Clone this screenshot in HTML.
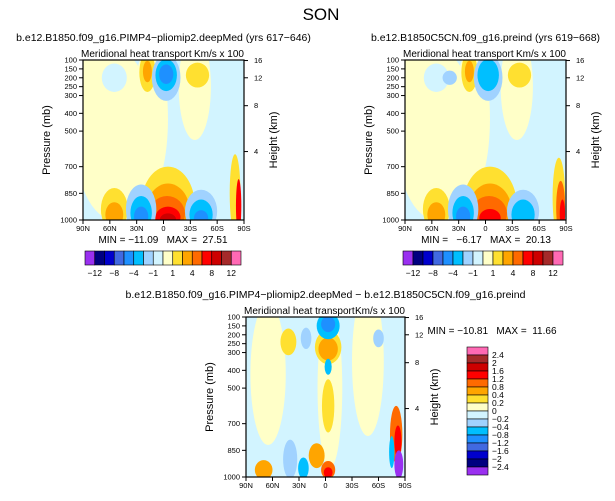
<!DOCTYPE html>
<html><head><meta charset="utf-8">
<style>
body{margin:0;background:#fff;width:615px;height:496px;overflow:hidden}
svg text{font-family:"Liberation Sans",sans-serif;fill:#000}
.pre{white-space:pre}
</style></head>
<body>
<svg id="s" width="615" height="496" xmlns="http://www.w3.org/2000/svg">
<text x="321" y="20" font-size="17" text-anchor="middle">SON</text>
</svg>
<script>
// Color levels (16 fill colors)
const colors=["#9a30f0","#000080","#0000cd","#4169e1","#1e90ff","#00bfff","#a0d2ff","#d2f4ff","#ffffc8","#ffe030","#ffa500","#ff6a00","#ff0000","#cd0000","#a52a2a","#ff69b4"];
const latTicks=["90N","60N","30N","0","30S","60S","90S"];
const latVals=[90,60,30,0,-30,-60,-90];
const presTicks=[100,150,200,250,300,400,500,700,850,1000];
const hgtTicks=[16,12,8,4];
const hgtPres=[103,200,357,615];
const cbLabels1=["-12","-8","-4","-1","1","4","8","12"];
const cbLabels1Pos=[1,3,5,7,9,11,13,15];
const cbLabels3=["2.4","2","1.6","1.2","0.8","0.4","0.2","0","-0.2","-0.4","-0.8","-1.2","-1.6","-2","-2.4"];
// blobs: [lat, pressure, lat-radius, pressure-radius, color index]
const blobs1=[[55,520,45,480,8],[15,430,20,400,8],[85,300,20,500,8],[-35,250,18,300,8],[55,200,14,80,7],
[18,170,9,110,9],[18,165,5,60,10],
[-3,200,16,130,6],[-3,185,12,90,5],[-3,180,8,55,4],[-38,185,13,70,9],
[-5,920,30,220,9],[-5,945,24,150,10],[-4,965,20,100,11],[-5,985,14,60,12],[-5,998,9,35,13],
[55,940,15,120,9],[55,970,10,70,10],[25,940,17,140,6],[25,960,12,95,5],[25,980,8,55,4],
[-42,950,18,120,6],[-42,970,13,85,5],[-42,990,8,45,4],[-80,850,6,220,9],[-84,920,3,150,12]];
const blobs2=[[55,520,45,480,8],[15,430,20,400,8],[85,300,20,500,8],[-35,250,18,300,8],[55,200,14,80,7],
[18,170,9,110,9],[18,165,5,60,10],
[40,200,8,40,6],[-3,200,16,130,6],[-3,185,12,90,5],[-38,185,13,70,9],
[-5,920,30,220,9],[-5,945,24,150,10],[-4,965,20,100,11],[-5,988,12,50,12],
[55,940,15,120,9],[55,970,10,70,10],[25,940,17,140,6],[25,960,12,95,5],[25,980,8,55,4],
[-42,950,18,120,6],[-42,970,13,85,5],[-82,870,7,220,9],[-84,930,5,150,11],[-86,965,3,80,12]];
const blobs3=[[65,420,20,400,8],[-5,500,14,450,8],[-48,350,18,420,8],[42,240,9,75,9],[22,220,6,60,6],[-60,220,6,50,6],
[-3,270,15,95,9],[-3,280,11,65,10],[-3,150,13,75,5],[-3,140,8,45,4],[-3,600,7,150,9],[-3,380,4,45,5],
[40,900,8,110,6],[10,880,9,70,10],[-3,960,8,50,11],[-3,975,5,30,12],[70,960,10,55,10],[25,950,6,60,5],
[-80,760,7,160,11],[-82,800,4,90,12],[-83,930,5,80,0],[-75,860,3,90,5]];

const S=document.getElementById('s');
const NS="http://www.w3.org/2000/svg";
function mk(tag,attrs,parent){const e=document.createElementNS(NS,tag);for(const k in attrs)e.setAttribute(k,attrs[k]);(parent||S).appendChild(e);return e;}
function txt(x,y,s,size,anchor,parent){const t=mk('text',{x:x,y:y,'font-size':size,'text-anchor':anchor||'start'},parent);t.textContent=s;return t;}

function panel(px,py,w,h,blobs,title,name,cid){
  const g=mk('g',{});
  
  
  const xs=lat=>px+(90-lat)/180*w;
  const ys=p=>py+(p-100)/900*h;
  mk('clipPath',{id:cid},g);
  mk('rect',{x:px,y:py,width:w,height:h},g.lastChild);
  const bg=mk('rect',{x:px,y:py,width:w,height:h,fill:colors[7]},g);
  
  
  const cg=mk('g',{'clip-path':'url(#'+cid+')'},g);
  blobs.forEach(b=>{
    const e=mk('ellipse',{cx:xs(b[0]),cy:ys(b[1]),rx:b[2]/180*w,ry:b[3]/900*h,fill:colors[b[4]]},cg);
    
    
  });
  mk('rect',{x:px,y:py,width:w,height:h,fill:'none',stroke:'#000','stroke-width':1.2},g);
  latTicks.forEach((l,i)=>{const x=xs(latVals[i]);mk('line',{x1:x,y1:py+h,x2:x,y2:py+h+4,stroke:'#000'},g);
    const t=txt(x,py+h+11,l,7.5,'middle',g);});
  presTicks.forEach(p=>{const y=ys(p);mk('line',{x1:px-4,y1:y,x2:px,y2:y,stroke:'#000'},g);
    const t=txt(px-6,y+2.5,String(p),7.5,'end',g);});
  hgtTicks.forEach((k,i)=>{const y=ys(hgtPres[i]);mk('line',{x1:px+w,y1:y,x2:px+w+4,y2:y,stroke:'#000'},g);
    const t=txt(px+w+10,y+2.5,String(k),7.5,'start',g);});
  const yl=txt(0,0,'Pressure (mb)',11,'middle',g);yl.setAttribute('transform',`translate(${px-33},${py+h/2}) rotate(-90)`);
  
  const hl=txt(0,0,'Height (km)',11,'middle',g);hl.setAttribute('transform',`translate(${px+w+33},${py+h/2}) rotate(-90)`);
  
  const st=txt(px-2,py-3,'Meridional heat transport',10,'start',g);
  const su=txt(px+w,py-3,'Km/s x 100',10,'end',g);
  const tt=txt(px+w/2,py-19,title,10.5,'middle',g);
}
panel(83,60,161,160,blobs1,'b.e12.B1850.f09_g16.PIMP4\u2212pliomip2.deepMed (yrs 617\u2212646)','panel-deepmed','c1');
panel(405,60,161,160,blobs2,'b.e12.B1850C5CN.f09_g16.preind (yrs 619\u2212668)','panel-preind','c2');
panel(246,317,159,160,blobs3,'b.e12.B1850.f09_g16.PIMP4\u2212pliomip2.deepMed \u2212 b.e12.B1850C5CN.f09_g16.preind','panel-difference','c3');

function minmax(x,y,s,name){const t=txt(x,y,s,10,'middle');t.setAttribute('class','pre');}
minmax(163,243,'MIN = \u221211.09   MAX =  27.51','minmax-panel1');
minmax(486,243,'MIN =   \u22126.17   MAX =  20.13','minmax-panel2');
minmax(492,334,'MIN = \u221210.81   MAX =  11.66','minmax-panel3');

function hbar(x0,y0,w,h,name){
  const g=mk('g',{});
  const bw=w/16;
  colors.forEach((c,i)=>{const r=mk('rect',{x:x0+i*bw,y:y0,width:bw,height:h,fill:c,stroke:'#000','stroke-width':0.6},g);
    });
  cbLabels1.forEach((l,i)=>{const t=txt(x0+cbLabels1Pos[i]*bw,y0+h+11,l.replace('-','\u2212'),8.5,'middle',g);
    });
}
hbar(85,251,156,14,'colorbar-panel1');
hbar(403,251,160,14,'colorbar-panel2');
(function(){
  const g=mk('g',{});
  const x0=467,y0=347,w=21,bh=8;
  colors.slice().reverse().forEach((c,i)=>{const r=mk('rect',{x:x0,y:y0+i*bh,width:w,height:bh,fill:c,stroke:'#000','stroke-width':0.6},g);
    });
  cbLabels3.forEach((l,i)=>{const t=txt(x0+w+4,y0+(i+1)*bh+3,l.replace('-','\u2212'),8.5,'start',g);
    });
})();
</script>
</body></html>
